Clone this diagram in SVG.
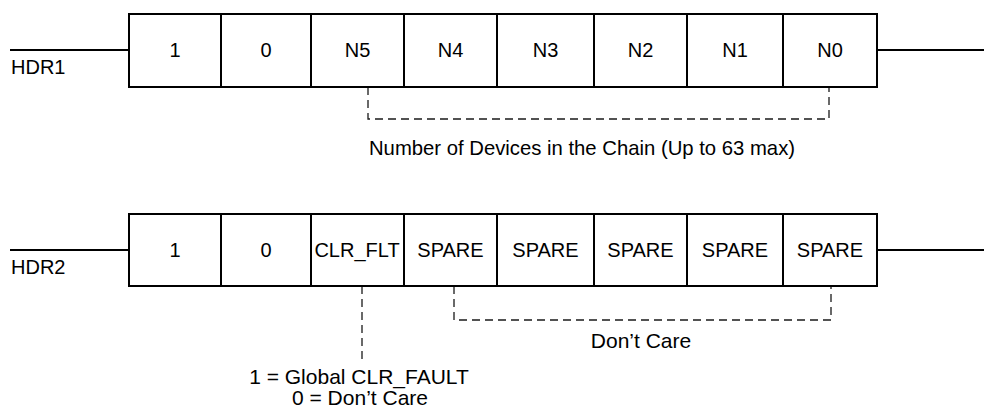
<svg xmlns="http://www.w3.org/2000/svg" width="984" height="410" viewBox="0 0 984 410">
  <style>
    .cell { fill: #ffffff; stroke: #000000; stroke-width: 2; }
    .wire { stroke: #000000; stroke-width: 2; fill: none; }
    .dash { stroke: #1a1a1a; stroke-width: 1.3; fill: none; stroke-dasharray: 8 5; }
    text { font-family: "Liberation Sans", Arial, sans-serif; font-size: 20px; fill: #000000; }
    .c { text-anchor: middle; }
    .lbl { font-size: 21px; }
  </style>
  <rect width="984" height="410" fill="#ffffff"/>

  <g id="connectors">
    <line class="wire" x1="10" y1="50" x2="129" y2="50"/>
    <line class="wire" x1="877" y1="50" x2="984" y2="50"/>
    <line class="wire" x1="10" y1="250" x2="129" y2="250"/>
    <line class="wire" x1="877" y1="250" x2="984" y2="250"/>
    <polyline class="dash" points="368,87 368,119 829,119 829,87"/>
    <polyline class="dash" points="454,286 454,320 831,320 831,286"/>
    <line class="dash" x1="362" y1="286" x2="362" y2="364"/>
  </g>

  <g id="hdr1">
    <text x="11" y="74">HDR1</text>
    <g id="hdr1-b7"><rect class="cell" x="129" y="14" width="92" height="73"/><text class="c" x="175" y="57">1</text></g>
    <g id="hdr1-b6"><rect class="cell" x="221" y="14" width="90" height="73"/><text class="c" x="266" y="57">0</text></g>
    <g id="hdr1-b5"><rect class="cell" x="311" y="14" width="93" height="73"/><text class="c" x="357.5" y="57">N5</text></g>
    <g id="hdr1-b4"><rect class="cell" x="404" y="14" width="93" height="73"/><text class="c" x="450.5" y="57">N4</text></g>
    <g id="hdr1-b3"><rect class="cell" x="497" y="14" width="97" height="73"/><text class="c" x="545.5" y="57">N3</text></g>
    <g id="hdr1-b2"><rect class="cell" x="594" y="14" width="93" height="73"/><text class="c" x="640.5" y="57">N2</text></g>
    <g id="hdr1-b1"><rect class="cell" x="687" y="14" width="96" height="73"/><text class="c" x="735" y="57">N1</text></g>
    <g id="hdr1-b0"><rect class="cell" x="783" y="14" width="94" height="73"/><text class="c" x="830" y="57">N0</text></g>
  </g>
  <g id="label-devices">
    <text class="c" x="582" y="155" style="font-size:20.3px">Number of Devices in the Chain (Up to 63 max)</text>
  </g>

  <g id="hdr2">
    <text x="11" y="274">HDR2</text>
    <g id="hdr2-b7"><rect class="cell" x="129" y="214" width="92" height="72"/><text class="c" x="175" y="257">1</text></g>
    <g id="hdr2-b6"><rect class="cell" x="221" y="214" width="90" height="72"/><text class="c" x="266" y="257">0</text></g>
    <g id="hdr2-b5"><rect class="cell" x="311" y="214" width="93" height="72"/><text class="c" x="357" y="257">CLR_FLT</text></g>
    <g id="hdr2-b4"><rect class="cell" x="404" y="214" width="93" height="72"/><text class="c" x="450.5" y="257">SPARE</text></g>
    <g id="hdr2-b3"><rect class="cell" x="497" y="214" width="97" height="72"/><text class="c" x="545.5" y="257">SPARE</text></g>
    <g id="hdr2-b2"><rect class="cell" x="594" y="214" width="93" height="72"/><text class="c" x="640.5" y="257">SPARE</text></g>
    <g id="hdr2-b1"><rect class="cell" x="687" y="214" width="96" height="72"/><text class="c" x="735" y="257">SPARE</text></g>
    <g id="hdr2-b0"><rect class="cell" x="783" y="214" width="94" height="72"/><text class="c" x="830" y="257">SPARE</text></g>
  </g>
  <g id="label-clr">
    <text class="c lbl" x="359" y="384">1 = Global CLR_FAULT</text>
    <text class="c lbl" x="360" y="405">0 = Don’t Care</text>
  </g>
  <g id="label-dontcare">
    <text class="c lbl" x="641" y="348">Don’t Care</text>
  </g>
</svg>
